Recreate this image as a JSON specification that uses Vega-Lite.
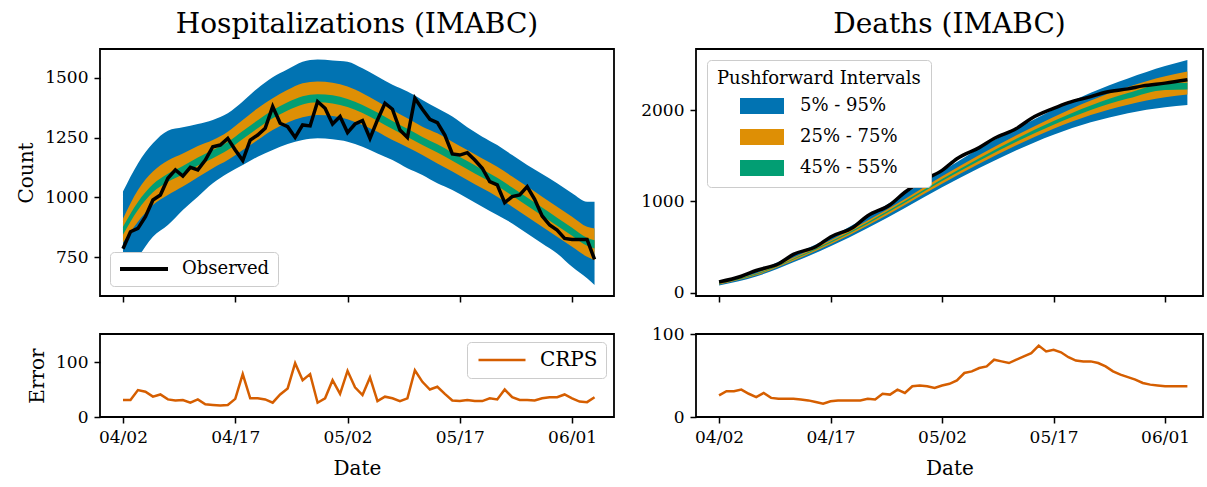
{
  "$schema": "https://vega.github.io/schema/vega-lite/v6.json",
  "autosize": {"type": "pad"},
  "padding": {"left": 15, "top": 10, "right": 0, "bottom": 0},
  "background": "white",
  "config": {
    "font": "DejaVu Serif",
    "view": {"stroke": "black", "strokeWidth": 1.8},
    "axis": {"domain": false, "grid": false, "tickColor": "black", "tickWidth": 1.5, "tickSize": 6, "labelFont": "DejaVu Serif", "labelFontSize": 17, "labelColor": "black", "labelPadding": 6, "titleFont": "DejaVu Serif", "titleFontSize": 20, "titleFontWeight": "normal", "titleColor": "black", "titlePadding": 8},
    "axisX": {"titlePadding": 13},
    "title": {"font": "DejaVu Serif", "fontSize": 28, "fontWeight": "normal", "color": "black", "offset": 10},
    "legend": {"labelFont": "DejaVu Serif", "titleFont": "DejaVu Serif", "labelColor": "black", "titleColor": "black"}
  },
  "datasets": {
    "hosp_band": [
      {"date":"2020-04-02","q05":690,"q25":810,"q45":843,"q55":877,"q75":910,"q95":1024},
      {"date":"2020-04-04","q05":751,"q25":898,"q45":947,"q55":981,"q75":1031,"q95":1142},
      {"date":"2020-04-06","q05":835,"q25":968,"q45":1021,"q55":1055,"q75":1108,"q95":1226},
      {"date":"2020-04-08","q05":884,"q25":1010,"q45":1065,"q55":1099,"q75":1154,"q95":1279},
      {"date":"2020-04-10","q05":947,"q25":1045,"q45":1097,"q55":1131,"q75":1184,"q95":1293},
      {"date":"2020-04-12","q05":1003,"q25":1084,"q45":1133,"q55":1167,"q75":1215,"q95":1307},
      {"date":"2020-04-14","q05":1059,"q25":1122,"q45":1164,"q55":1198,"q75":1240,"q95":1324},
      {"date":"2020-04-16","q05":1101,"q25":1156,"q45":1198,"q55":1232,"q75":1275,"q95":1352},
      {"date":"2020-04-18","q05":1135,"q25":1198,"q45":1244,"q55":1278,"q75":1324,"q95":1401},
      {"date":"2020-04-20","q05":1170,"q25":1240,"q45":1289,"q55":1323,"q75":1373,"q95":1457},
      {"date":"2020-04-22","q05":1198,"q25":1282,"q45":1331,"q55":1365,"q75":1415,"q95":1503},
      {"date":"2020-04-24","q05":1223,"q25":1313,"q45":1364,"q55":1398,"q75":1450,"q95":1536},
      {"date":"2020-04-26","q05":1240,"q25":1335,"q45":1389,"q55":1423,"q75":1478,"q95":1568},
      {"date":"2020-04-28","q05":1247,"q25":1345,"q45":1398,"q55":1432,"q75":1485,"q95":1577},
      {"date":"2020-04-30","q05":1243,"q25":1341,"q45":1393,"q55":1427,"q75":1480,"q95":1573},
      {"date":"2020-05-02","q05":1233,"q25":1327,"q45":1378,"q55":1412,"q75":1464,"q95":1568},
      {"date":"2020-05-04","q05":1212,"q25":1303,"q45":1353,"q55":1387,"q75":1436,"q95":1540},
      {"date":"2020-05-06","q05":1184,"q25":1275,"q45":1321,"q55":1355,"q75":1401,"q95":1506},
      {"date":"2020-05-08","q05":1156,"q25":1240,"q45":1286,"q55":1320,"q75":1366,"q95":1471},
      {"date":"2020-05-10","q05":1122,"q25":1210,"q45":1253,"q55":1287,"q75":1331,"q95":1443},
      {"date":"2020-05-12","q05":1094,"q25":1177,"q45":1219,"q55":1253,"q75":1296,"q95":1408},
      {"date":"2020-05-14","q05":1059,"q25":1142,"q45":1188,"q55":1222,"q75":1268,"q95":1373},
      {"date":"2020-05-16","q05":1031,"q25":1108,"q45":1153,"q55":1187,"q75":1233,"q95":1338},
      {"date":"2020-05-18","q05":996,"q25":1073,"q45":1118,"q55":1152,"q75":1198,"q95":1293},
      {"date":"2020-05-20","q05":961,"q25":1038,"q45":1083,"q55":1117,"q75":1163,"q95":1254},
      {"date":"2020-05-22","q05":926,"q25":1003,"q45":1048,"q55":1082,"q75":1128,"q95":1219},
      {"date":"2020-05-24","q05":891,"q25":961,"q45":1007,"q55":1041,"q75":1087,"q95":1177},
      {"date":"2020-05-26","q05":849,"q25":919,"q45":965,"q55":999,"q75":1045,"q95":1135},
      {"date":"2020-05-28","q05":807,"q25":877,"q45":923,"q55":957,"q75":1003,"q95":1098},
      {"date":"2020-05-30","q05":765,"q25":835,"q45":881,"q55":915,"q75":961,"q95":1059},
      {"date":"2020-06-01","q05":709,"q25":793,"q45":839,"q55":873,"q75":919,"q95":1017},
      {"date":"2020-06-03","q05":661,"q25":751,"q45":797,"q55":831,"q75":877,"q95":982},
      {"date":"2020-06-04","q05":633,"q25":737,"q45":786,"q55":820,"q75":870,"q95":982}
    ],
    "hosp_obs": [
      {"date":"2020-04-02","count":785},{"date":"2020-04-03","count":856},{"date":"2020-04-04","count":870},{"date":"2020-04-05","count":919},
      {"date":"2020-04-06","count":989},{"date":"2020-04-07","count":1010},{"date":"2020-04-08","count":1080},{"date":"2020-04-09","count":1115},
      {"date":"2020-04-10","count":1089},{"date":"2020-04-11","count":1126},{"date":"2020-04-12","count":1115},{"date":"2020-04-13","count":1156},
      {"date":"2020-04-14","count":1212},{"date":"2020-04-15","count":1219},{"date":"2020-04-16","count":1247},{"date":"2020-04-17","count":1198},
      {"date":"2020-04-18","count":1154},{"date":"2020-04-19","count":1240},{"date":"2020-04-20","count":1261},{"date":"2020-04-21","count":1289},
      {"date":"2020-04-22","count":1380},{"date":"2020-04-23","count":1310},{"date":"2020-04-24","count":1296},{"date":"2020-04-25","count":1251},
      {"date":"2020-04-26","count":1303},{"date":"2020-04-27","count":1299},{"date":"2020-04-28","count":1401},{"date":"2020-04-29","count":1373},
      {"date":"2020-04-30","count":1307},{"date":"2020-05-01","count":1338},{"date":"2020-05-02","count":1271},{"date":"2020-05-03","count":1307},
      {"date":"2020-05-04","count":1321},{"date":"2020-05-05","count":1247},{"date":"2020-05-06","count":1324},{"date":"2020-05-07","count":1394},
      {"date":"2020-05-08","count":1369},{"date":"2020-05-09","count":1282},{"date":"2020-05-10","count":1251},{"date":"2020-05-11","count":1415},
      {"date":"2020-05-12","count":1369},{"date":"2020-05-13","count":1327},{"date":"2020-05-14","count":1313},{"date":"2020-05-15","count":1261},
      {"date":"2020-05-16","count":1182},{"date":"2020-05-17","count":1177},{"date":"2020-05-18","count":1187},{"date":"2020-05-19","count":1156},
      {"date":"2020-05-20","count":1122},{"date":"2020-05-21","count":1066},{"date":"2020-05-22","count":1052},{"date":"2020-05-23","count":978},
      {"date":"2020-05-24","count":1003},{"date":"2020-05-25","count":1010},{"date":"2020-05-26","count":1045},{"date":"2020-05-27","count":992},
      {"date":"2020-05-28","count":922},{"date":"2020-05-29","count":884},{"date":"2020-05-30","count":863},{"date":"2020-05-31","count":828},
      {"date":"2020-06-01","count":824},{"date":"2020-06-02","count":824},{"date":"2020-06-03","count":824},{"date":"2020-06-04","count":740}
    ],
    "death_band": [
      {"date":"2020-04-02","q05":83,"q25":93,"q45":100,"q55":106,"q75":113,"q95":123},
      {"date":"2020-04-07","q05":180,"q25":193,"q45":201,"q55":209,"q75":217,"q95":235},
      {"date":"2020-04-12","q05":335,"q25":353,"q45":365,"q55":375,"q75":387,"q95":418},
      {"date":"2020-04-17","q05":510,"q25":533,"q45":548,"q55":562,"q75":577,"q95":610},
      {"date":"2020-04-22","q05":710,"q25":738,"q45":757,"q55":773,"q75":792,"q95":838},
      {"date":"2020-04-27","q05":930,"q25":963,"q45":985,"q55":1005,"q75":1027,"q95":1088},
      {"date":"2020-05-02","q05":1155,"q25":1195,"q45":1223,"q55":1247,"q75":1275,"q95":1332},
      {"date":"2020-05-07","q05":1365,"q25":1412,"q45":1446,"q55":1474,"q75":1508,"q95":1580},
      {"date":"2020-05-12","q05":1560,"q25":1615,"q45":1653,"q55":1687,"q75":1725,"q95":1795},
      {"date":"2020-05-17","q05":1730,"q25":1795,"q45":1840,"q55":1880,"q75":1925,"q95":2005},
      {"date":"2020-05-22","q05":1865,"q25":1945,"q45":2000,"q55":2050,"q75":2105,"q95":2190},
      {"date":"2020-05-27","q05":1965,"q25":2058,"q45":2125,"q55":2185,"q75":2252,"q95":2345},
      {"date":"2020-06-01","q05":2030,"q25":2140,"q45":2220,"q55":2290,"q75":2370,"q95":2480},
      {"date":"2020-06-04","q05":2055,"q25":2170,"q45":2225,"q55":2298,"q75":2420,"q95":2546}
    ],
    "death_obs": [
      {"date":"2020-04-02","count":121},{"date":"2020-04-05","count":183},{"date":"2020-04-07","count":246},{"date":"2020-04-10","count":319},
      {"date":"2020-04-12","count":422},{"date":"2020-04-15","count":506},{"date":"2020-04-17","count":613},{"date":"2020-04-20","count":716},
      {"date":"2020-04-22","count":844},{"date":"2020-04-25","count":965},{"date":"2020-04-27","count":1101},{"date":"2020-04-29","count":1211},
      {"date":"2020-05-02","count":1340},{"date":"2020-05-04","count":1468},{"date":"2020-05-07","count":1589},{"date":"2020-05-09","count":1688},
      {"date":"2020-05-12","count":1798},{"date":"2020-05-14","count":1908},{"date":"2020-05-17","count":2018},{"date":"2020-05-19","count":2081},
      {"date":"2020-05-22","count":2147},{"date":"2020-05-24","count":2195},{"date":"2020-05-27","count":2231},{"date":"2020-05-29","count":2264},
      {"date":"2020-06-01","count":2294},{"date":"2020-06-04","count":2330}
    ],
    "crps": [
      {"date":"2020-04-02","hosp":31,"deaths":26},{"date":"2020-04-03","hosp":31,"deaths":31},{"date":"2020-04-04","hosp":49,"deaths":31},{"date":"2020-04-05","hosp":46,"deaths":33},
      {"date":"2020-04-06","hosp":37,"deaths":28},{"date":"2020-04-07","hosp":41,"deaths":24},{"date":"2020-04-08","hosp":32,"deaths":29},{"date":"2020-04-09","hosp":30,"deaths":23},
      {"date":"2020-04-10","hosp":31,"deaths":22},{"date":"2020-04-11","hosp":26,"deaths":22},{"date":"2020-04-12","hosp":32,"deaths":22},{"date":"2020-04-13","hosp":23,"deaths":21},
      {"date":"2020-04-14","hosp":22,"deaths":20},{"date":"2020-04-15","hosp":21,"deaths":18},{"date":"2020-04-16","hosp":22,"deaths":16},{"date":"2020-04-17","hosp":33,"deaths":19},
      {"date":"2020-04-18","hosp":78,"deaths":20},{"date":"2020-04-19","hosp":34,"deaths":20},{"date":"2020-04-20","hosp":34,"deaths":20},{"date":"2020-04-21","hosp":32,"deaths":20},
      {"date":"2020-04-22","hosp":26,"deaths":22},{"date":"2020-04-23","hosp":41,"deaths":21},{"date":"2020-04-24","hosp":52,"deaths":28},{"date":"2020-04-25","hosp":98,"deaths":27},
      {"date":"2020-04-26","hosp":67,"deaths":33},{"date":"2020-04-27","hosp":78,"deaths":29},{"date":"2020-04-28","hosp":26,"deaths":37},{"date":"2020-04-29","hosp":34,"deaths":38},
      {"date":"2020-04-30","hosp":67,"deaths":37},{"date":"2020-05-01","hosp":42,"deaths":35},{"date":"2020-05-02","hosp":84,"deaths":38},{"date":"2020-05-03","hosp":54,"deaths":40},
      {"date":"2020-05-04","hosp":40,"deaths":44},{"date":"2020-05-05","hosp":72,"deaths":53},{"date":"2020-05-06","hosp":29,"deaths":55},{"date":"2020-05-07","hosp":37,"deaths":59},
      {"date":"2020-05-08","hosp":34,"deaths":61},{"date":"2020-05-09","hosp":29,"deaths":69},{"date":"2020-05-10","hosp":34,"deaths":67},{"date":"2020-05-11","hosp":85,"deaths":65},
      {"date":"2020-05-12","hosp":64,"deaths":69},{"date":"2020-05-13","hosp":50,"deaths":73},{"date":"2020-05-14","hosp":55,"deaths":77},{"date":"2020-05-15","hosp":42,"deaths":86},
      {"date":"2020-05-16","hosp":30,"deaths":79},{"date":"2020-05-17","hosp":29,"deaths":81},{"date":"2020-05-18","hosp":31,"deaths":78},{"date":"2020-05-19","hosp":29,"deaths":72},
      {"date":"2020-05-20","hosp":29,"deaths":68},{"date":"2020-05-21","hosp":34,"deaths":67},{"date":"2020-05-22","hosp":32,"deaths":67},{"date":"2020-05-23","hosp":50,"deaths":65},
      {"date":"2020-05-24","hosp":36,"deaths":61},{"date":"2020-05-25","hosp":31,"deaths":55},{"date":"2020-05-26","hosp":31,"deaths":51},{"date":"2020-05-27","hosp":30,"deaths":48},
      {"date":"2020-05-28","hosp":34,"deaths":45},{"date":"2020-05-29","hosp":36,"deaths":41},{"date":"2020-05-30","hosp":36,"deaths":39},{"date":"2020-05-31","hosp":41,"deaths":38},
      {"date":"2020-06-01","hosp":34,"deaths":37},{"date":"2020-06-02","hosp":28,"deaths":37},{"date":"2020-06-03","hosp":27,"deaths":37},{"date":"2020-06-04","hosp":36,"deaths":37}
    ]
  },
  "columns": 2,
  "bounds": "flush",
  "spacing": {"row": 38, "column": 82},
  "resolve": {"scale": {"fill": "independent", "stroke": "independent"}, "legend": {"fill": "independent", "stroke": "independent"}},
  "concat": [
    {
      "width": 514, "height": 247,
      "title": {"text": "Hospitalizations (IMABC)"},
      "layer": [
        {
          "data": {"name": "hosp_band"},
          "mark": {"type": "area", "interpolate": "monotone"},
          "encoding": {
            "x": {"field": "date", "type": "temporal", "scale": {"type": "utc", "domain": [{"year":2020,"month":3,"date":29,"hours":22,"minutes":19,"utc":true},{"year":2020,"month":6,"date":6,"hours":14,"minutes":24,"utc":true}]}, "axis": {"values": [{"year":2020,"month":4,"date":2,"utc":true},{"year":2020,"month":4,"date":17,"utc":true},{"year":2020,"month":5,"date":2,"utc":true},{"year":2020,"month":5,"date":17,"utc":true},{"year":2020,"month":6,"date":1,"utc":true}], "labels": false, "title": null}},
            "y": {"field": "q05", "type": "quantitative", "scale": {"domain": [587, 1621], "nice": false, "zero": false}, "axis": {"values": [750, 1000, 1250, 1500], "format": "d", "title": "Count"}},
            "y2": {"field": "q95"},
            "fill": {"datum": "5% - 95%", "scale": {"domain": ["5% - 95%", "25% - 75%", "45% - 55%"], "range": ["#0173b2", "#de8f05", "#029e73"]}, "legend": null}
          }
        },
        {
          "data": {"name": "hosp_band"},
          "mark": {"type": "area", "interpolate": "monotone"},
          "encoding": {
            "x": {"field": "date", "type": "temporal"},
            "y": {"field": "q25", "type": "quantitative"},
            "y2": {"field": "q75"},
            "fill": {"datum": "25% - 75%", "legend": null}
          }
        },
        {
          "data": {"name": "hosp_band"},
          "mark": {"type": "area", "interpolate": "monotone"},
          "encoding": {
            "x": {"field": "date", "type": "temporal"},
            "y": {"field": "q45", "type": "quantitative"},
            "y2": {"field": "q55"},
            "fill": {"datum": "45% - 55%", "legend": null}
          }
        },
        {
          "data": {"name": "hosp_obs"},
          "mark": {"type": "line", "strokeWidth": 3.5},
          "encoding": {
            "x": {"field": "date", "type": "temporal"},
            "y": {"field": "count", "type": "quantitative"},
            "stroke": {"datum": "Observed", "scale": {"domain": ["Observed"], "range": ["black"]}, "legend": {"title": null, "orient": "bottom-left", "offset": 10, "labelFontSize": 18, "symbolType": "M-4.8,0H4.8", "symbolSize": 100, "symbolStrokeWidth": 4, "symbolOffset": 17, "labelOffset": 29, "padding": 8, "strokeColor": "#cccccc", "fillColor": "white", "cornerRadius": 4}}
          }
        }
      ]
    },
    {
      "width": 507, "height": 247,
      "title": {"text": "Deaths (IMABC)"},
      "layer": [
        {
          "data": {"name": "death_band"},
          "mark": {"type": "area", "interpolate": "monotone"},
          "encoding": {
            "x": {"field": "date", "type": "temporal", "scale": {"type": "utc", "domain": [{"year":2020,"month":3,"date":29,"hours":21,"minutes":36,"utc":true},{"year":2020,"month":6,"date":6,"hours":2,"minutes":24,"utc":true}]}, "axis": {"values": [{"year":2020,"month":4,"date":2,"utc":true},{"year":2020,"month":4,"date":17,"utc":true},{"year":2020,"month":5,"date":2,"utc":true},{"year":2020,"month":5,"date":17,"utc":true},{"year":2020,"month":6,"date":1,"utc":true}], "labels": false, "title": null}},
            "y": {"field": "q05", "type": "quantitative", "scale": {"domain": [-33, 2667], "nice": false, "zero": false}, "axis": {"values": [0, 1000, 2000], "format": "d", "title": null}},
            "y2": {"field": "q95"},
            "fill": {"datum": "5% - 95%", "scale": {"domain": ["5% - 95%", "25% - 75%", "45% - 55%"], "range": ["#0173b2", "#de8f05", "#029e73"]}, "legend": {"title": "Pushforward Intervals", "orient": "top-left", "offset": 11, "titleFontSize": 18, "titleFontWeight": "normal", "titlePadding": 9, "titleLimit": 400, "labelFontSize": 18, "symbolType": "M-2.75,-1H2.75V1H-2.75Z", "symbolSize": 256, "symbolStrokeWidth": 0, "symbolOpacity": 1, "symbolOffset": 36, "labelOffset": 29, "rowPadding": 13, "padding": 10, "strokeColor": "#cccccc", "fillColor": "white", "cornerRadius": 4}}
          }
        },
        {
          "data": {"name": "death_band"},
          "mark": {"type": "area", "interpolate": "monotone"},
          "encoding": {
            "x": {"field": "date", "type": "temporal"},
            "y": {"field": "q25", "type": "quantitative"},
            "y2": {"field": "q75"},
            "fill": {"datum": "25% - 75%"}
          }
        },
        {
          "data": {"name": "death_band"},
          "mark": {"type": "area", "interpolate": "monotone"},
          "encoding": {
            "x": {"field": "date", "type": "temporal"},
            "y": {"field": "q45", "type": "quantitative"},
            "y2": {"field": "q55"},
            "fill": {"datum": "45% - 55%"}
          }
        },
        {
          "data": {"name": "death_obs"},
          "mark": {"type": "line", "strokeWidth": 3.5, "color": "black", "interpolate": "monotone"},
          "encoding": {
            "x": {"field": "date", "type": "temporal"},
            "y": {"field": "count", "type": "quantitative"}
          }
        }
      ]
    },
    {
      "width": 514, "height": 83,
      "data": {"name": "crps"},
      "mark": {"type": "line", "strokeWidth": 2.5},
      "encoding": {
        "x": {"field": "date", "type": "temporal", "scale": {"type": "utc", "domain": [{"year":2020,"month":3,"date":29,"hours":22,"minutes":19,"utc":true},{"year":2020,"month":6,"date":6,"hours":14,"minutes":24,"utc":true}]}, "axis": {"values": [{"year":2020,"month":4,"date":2,"utc":true},{"year":2020,"month":4,"date":17,"utc":true},{"year":2020,"month":5,"date":2,"utc":true},{"year":2020,"month":5,"date":17,"utc":true},{"year":2020,"month":6,"date":1,"utc":true}], "format": "%m/%d", "title": "Date"}},
        "y": {"field": "hosp", "type": "quantitative", "scale": {"domain": [0, 151], "nice": false}, "axis": {"values": [0, 100], "format": "d", "title": "Error"}},
        "stroke": {"datum": "CRPS", "scale": {"domain": ["CRPS"], "range": ["#d55e00"]}, "legend": {"title": null, "orient": "top-right", "offset": 8, "labelFontSize": 20, "symbolType": "M-4.7,0H4.7", "symbolSize": 100, "symbolStrokeWidth": 2.5, "symbolOffset": 17, "labelOffset": 28, "padding": 8, "strokeColor": "#cccccc", "fillColor": "white", "cornerRadius": 4}}
      }
    },
    {
      "width": 507, "height": 83,
      "data": {"name": "crps"},
      "mark": {"type": "line", "strokeWidth": 2.5, "color": "#d55e00"},
      "encoding": {
        "x": {"field": "date", "type": "temporal", "scale": {"type": "utc", "domain": [{"year":2020,"month":3,"date":29,"hours":21,"minutes":36,"utc":true},{"year":2020,"month":6,"date":6,"hours":2,"minutes":24,"utc":true}]}, "axis": {"values": [{"year":2020,"month":4,"date":2,"utc":true},{"year":2020,"month":4,"date":17,"utc":true},{"year":2020,"month":5,"date":2,"utc":true},{"year":2020,"month":5,"date":17,"utc":true},{"year":2020,"month":6,"date":1,"utc":true}], "format": "%m/%d", "title": "Date"}},
        "y": {"field": "deaths", "type": "quantitative", "scale": {"domain": [0, 100], "nice": false}, "axis": {"values": [0, 100], "format": "d", "title": null}}
      }
    }
  ]
}
